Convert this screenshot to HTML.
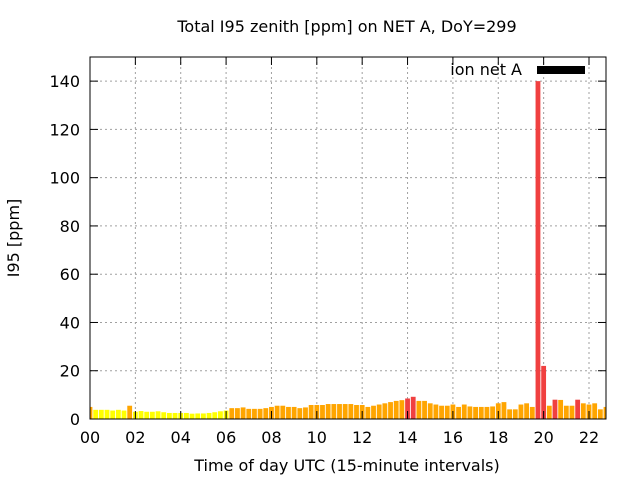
<!DOCTYPE html>
<html><head><meta charset="utf-8"><style>
body{margin:0;background:#fff}
text{font-family:"DejaVu Sans","Liberation Sans",sans-serif;}
</style></head><body>
<svg id="c" width="640" height="480" xmlns="http://www.w3.org/2000/svg">
<defs><clipPath id="cp"><rect x="90" y="57" width="516" height="362"/></clipPath></defs>
<g id="grid"></g>
<g id="bars" clip-path="url(#cp)"></g>
<rect x="90" y="57" width="516" height="362" fill="none" stroke="#000" stroke-width="1"/>
<g id="ticks"></g>
<text x="347" y="32" font-size="16" text-anchor="middle">Total I95 zenith [ppm] on NET A, DoY=299</text>
<text x="347" y="471" font-size="16" text-anchor="middle">Time of day UTC (15-minute intervals)</text>
<text transform="translate(19,238) rotate(-90)" font-size="16" text-anchor="middle">I95 [ppm]</text>
<text x="522" y="75" font-size="16" text-anchor="end">ion net A</text>
<rect x="537" y="66" width="48" height="8" fill="#000"/>
</svg>
<script>
const values = [5,3.8,3.8,3.8,3.5,3.8,3.5,5.5,3,3.3,3,3,3.2,2.8,2.5,2.5,2.5,2.5,2.2,2.3,2.3,2.5,2.8,3.2,3.5,4.5,4.5,4.8,4.2,4.2,
4.2,4.5,5,5.5,5.5,5,5,4.5,4.8,5.8,5.8,5.8,6.2,6.2,6.2,6.2,6.2,5.8,5.8,5,5.5,6,6.5,7,7.5,7.8,8.5,9.2,7.5,7.5,
6.5,6,5.5,5.5,6,5,6,5.2,5,5,5,5.2,6.5,7,4,4,6,6.5,5,140,22,5.5,8,7.9,5.5,5.5,8,6.5,6,6.5,4,5];
const yTicks = [0,20,40,60,80,100,120,140];
const xTicks = ["00","02","04","06","08","10","12","14","16","18","20","22"];
const X0=90,X1=606,Y0=419,Y1=57;
const xs = h => X0 + h*(589-X0)/22;
const ys = v => Y0 - v*(Y0-Y1)/150;
const NS="http://www.w3.org/2000/svg";
const grid=document.getElementById('grid'),ticks=document.getElementById('ticks'),bars=document.getElementById('bars');
function mk(tag,attrs,parent){const e=document.createElementNS(NS,tag);for(const k in attrs)e.setAttribute(k,attrs[k]);parent.appendChild(e);return e;}
yTicks.forEach(v=>{const y=ys(v);
 if(v>0){const g=mk('line',{x1:X0,x2:X1,y1:y,y2:y,stroke:'#a0a0a0','stroke-dasharray':'2,3'},grid);
 
 }
 mk('line',{x1:X0,x2:X0+8,y1:y,y2:y,stroke:'#000'},ticks);
 mk('line',{x1:X1,x2:X1-8,y1:y,y2:y,stroke:'#000'},ticks);
 const t=mk('text',{x:X0-10,y:y+6,'font-size':16,'text-anchor':'end'},ticks);t.textContent=v;
 
 
});
xTicks.forEach((s,i)=>{const x=xs(i*2);
 if(i>0){const g=mk('line',{x1:x,x2:x,y1:Y0,y2:Y1,stroke:'#a0a0a0','stroke-dasharray':'2,3'},grid);
 
 }
 mk('line',{x1:x,x2:x,y1:Y0,y2:Y0-8,stroke:'#000'},ticks);
 mk('line',{x1:x,x2:x,y1:Y1,y2:Y1+8,stroke:'#000'},ticks);
 const t=mk('text',{x:x,y:Y0+24,'font-size':16,'text-anchor':'middle'},ticks);t.textContent=s;
 
 
});
const step=(xs(1)-xs(0))/4;
values.forEach((v,i)=>{const x=xs(i/4);const w=step*0.85;
 const col=v<4?'#ffff00':(v<8?'#ffa500':'#f04040');
 const r=mk('rect',{x:x-w/2,y:ys(v),width:w,height:Y0-ys(v),fill:col},bars);
 
 
});
</script>
</body></html>
